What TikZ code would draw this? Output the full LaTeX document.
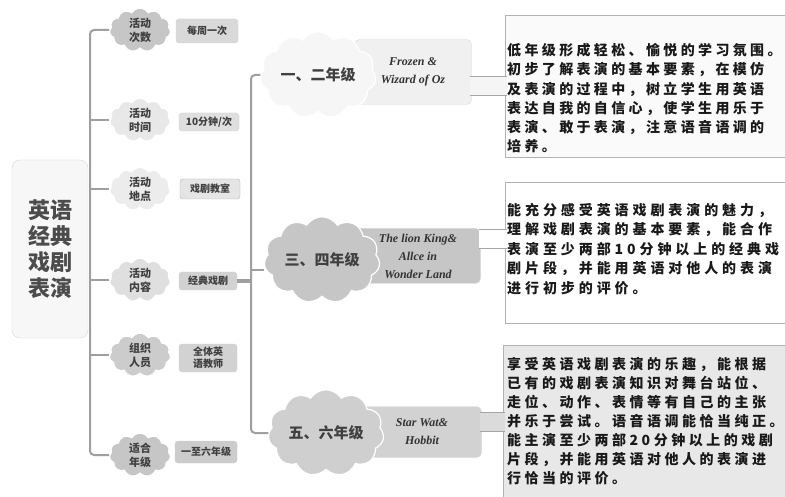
\documentclass[tikz,border=0pt]{standalone}
\usepackage{fontspec}
\setmainfont{Liberation Serif}
\newfontfamily\cjk{Noto Sans CJK SC}
\newfontfamily\descA{Noto Sans CJK SC}[LetterSpace=24]
\newfontfamily\descB{Noto Sans CJK SC}[LetterSpace=28]
\newfontfamily\descC{Noto Sans CJK SC}[LetterSpace=25]
\usetikzlibrary{shapes.symbols,positioning}

\begin{document}
\begin{tikzpicture}[x=1pt,y=-1pt,
  branch/.style={draw=gray!75,line width=2pt},
  puff/.style={cloud,cloud puffs=11,cloud puff arc=115,aspect=1.6,draw=white,line width=1.2pt,
    inner sep=0.5pt,align=center,text=black!75,
    font=\cjk\bfseries\fontsize{11}{14}\selectfont},
  bigpuff/.style={puff,aspect=1.5,inner sep=1pt,
    font=\cjk\bfseries\fontsize{15}{18}\selectfont},
  tag/.style={rounded corners=3pt,draw=gray!35,inner sep=1pt,align=center,text=black!75,
    font=\cjk\bfseries\fontsize{10}{13}\selectfont},
  title/.style={rounded corners=5pt,draw=gray!30,inner sep=1pt,align=center,text=black!80,
    font=\bfseries\itshape\fontsize{12}{18}\selectfont},
  band/.style={draw=gray!70,line width=1pt,double distance=18pt},
  descbox/.style={draw=gray!60,line width=1pt,minimum width=300},
  desctext/.style={align=left,inner sep=0pt,anchor=north west,text=black!90}]
 \clip (0,0) rectangle (785,497);
 \fill[white] (0,0) rectangle (785,497);

 % root and first level
 \node[rounded corners=8pt,fill=gray!6,draw=gray!30,minimum width=76,minimum height=178,
   align=center,text=black!70,font=\cjk\bfseries\fontsize{22}{26}\selectfont]
   (root) at (50,249) {英语\\经典\\戏剧\\表演};

 \node[tag,fill=gray!30,minimum width=62,minimum height=24] (l1) at (207,31) {每周一次};
 \node[tag,fill=gray!25,minimum width=60,minimum height=18] (l2) at (209,122) {10分钟/次};
 \node[tag,fill=gray!20,draw=gray!60,minimum width=60,minimum height=20] (l3) at (210,189) {戏剧教室};
 \node[tag,fill=gray!35,minimum width=58,minimum height=18] (l4) at (208,281) {经典戏剧};
 \node[tag,fill=gray!35,minimum width=58,minimum height=28,
   font=\cjk\bfseries\fontsize{10}{12}\selectfont] (l5) at (208,358) {全体英\\语教师};
 \node[tag,fill=gray!40,minimum width=62,minimum height=22] (l6) at (206,452) {一至六年级};

 \node[puff,fill=gray!45] (c1) at (140,30) {活动\\次数};
 \node[puff,fill=gray!18] (c2) at (140,120) {活动\\时间};
 \node[puff,fill=gray!15] (c3) at (140,189) {活动\\地点};
 \node[puff,fill=gray!25] (c4) at (140,280) {活动\\内容};
 \node[puff,fill=gray!40] (c5) at (140,355) {组织\\人员};
 \node[puff,fill=gray!45] (c6) at (140,455) {适合\\年级};

 \coordinate (tk) at (90,0);
 \draw[branch,rounded corners=4pt] (c1.west) -- (tk |- c1.west) -- (tk |- c6.west) -- (c6.west);
 \foreach \c in {c2,c3,c4,c5}
  \draw[branch] (tk |- \c.west) -- (\c.west);

 % second level
 \node[descbox,fill=gray!4,minimum height=142,anchor=north west] (dA) at (505,15) {};
 \node[descbox,fill=white,minimum height=141,anchor=north west] (dB) at (505,182) {};
 \node[descbox,fill=gray!18,minimum height=170,anchor=north west] (dC) at (503,345) {};

 \node[title,fill=gray!12,minimum width=117,minimum height=65] (tA) at (413,72) {Frozen \&\\Wizard of Oz};
 \node[title,fill=gray!45,minimum width=125,minimum height=55] (tB) at (418,256) {The lion King\&\\Allce in\\Wonder Land};
 \node[title,fill=gray!35,minimum width=119,minimum height=51] (tC) at (422,432) {Star Wat\&\\Hobbit};

 \coordinate (bA) at ([yshift=-14pt]tA.east);
 \coordinate (bB) at ([yshift=17pt]tB.east);
 \coordinate (bC) at ([yshift=10pt]tC.east);
 \draw[band,double=gray!8] ([xshift=-2pt]bA) -- ([xshift=2pt]bA -| dA.west);
 \draw[band,double=white] ([xshift=-2pt]bB) -- ([xshift=2pt]bB -| dB.west);
 \draw[band,double=gray!28] ([xshift=-2pt]bC) -- ([xshift=2pt]bC -| dC.west);

 \node[bigpuff,fill=gray!7] (gA) at (318,75) {一、二年级};
 \node[bigpuff,fill=gray!45] (gB) at (322,260) {三、四年级};
 \node[bigpuff,fill=gray!38] (gC) at (326,433) {五、六年级};

 \coordinate (tk2) at (251,0);
 \coordinate (gBin) at ([yshift=-10pt]gB.west);
 \draw[branch,rounded corners=4pt] (gA.west) -- (tk2 |- gA.west) -- (tk2 |- gC.west) -- (gC.west);
 \draw[branch] (tk2 |- gBin) -- (gBin);
 \draw[branch,line width=4pt] (l4.east) -- (tk2 |- l4.east);

 % texts of the grades
 \node[desctext,font=\descA\bfseries\fontsize{14}{19.3}\selectfont] (xA) at ([shift={(2,28)}]dA.north west)
  {低年级形成轻松、愉悦的学习氛围。\\
   初步了解表演的基本要素，在模仿\\
   及表演的过程中，树立学生用英语\\
   表达自我的自信心，使学生用乐于\\
   表演、敢于表演，注意语音语调的\\
   培养。};
 \node[desctext,font=\descB\bfseries\fontsize{14}{19.5}\selectfont] (xB) at ([shift={(2,21)}]dB.north west)
  {能充分感受英语戏剧表演的魅力，\\
   理解戏剧表演的基本要素，能合作\\
   表演至少两部10分钟以上的经典戏\\
   剧片段，并能用英语对他人的表演\\
   进行初步的评价。};
 \node[desctext,font=\descC\bfseries\fontsize{14}{19}\selectfont] (xC) at ([shift={(4,12)}]dC.north west)
  {享受英语戏剧表演的乐趣，能根据\\
   已有的戏剧表演知识对舞台站位、\\
   走位、动作、表情等有自己的主张\\
   并乐于尝试。语音语调能恰当纯正。\\
   能主演至少两部20分钟以上的戏剧\\
   片段，并能用英语对他人的表演进\\
   行恰当的评价。};
\end{tikzpicture}
\end{document}
